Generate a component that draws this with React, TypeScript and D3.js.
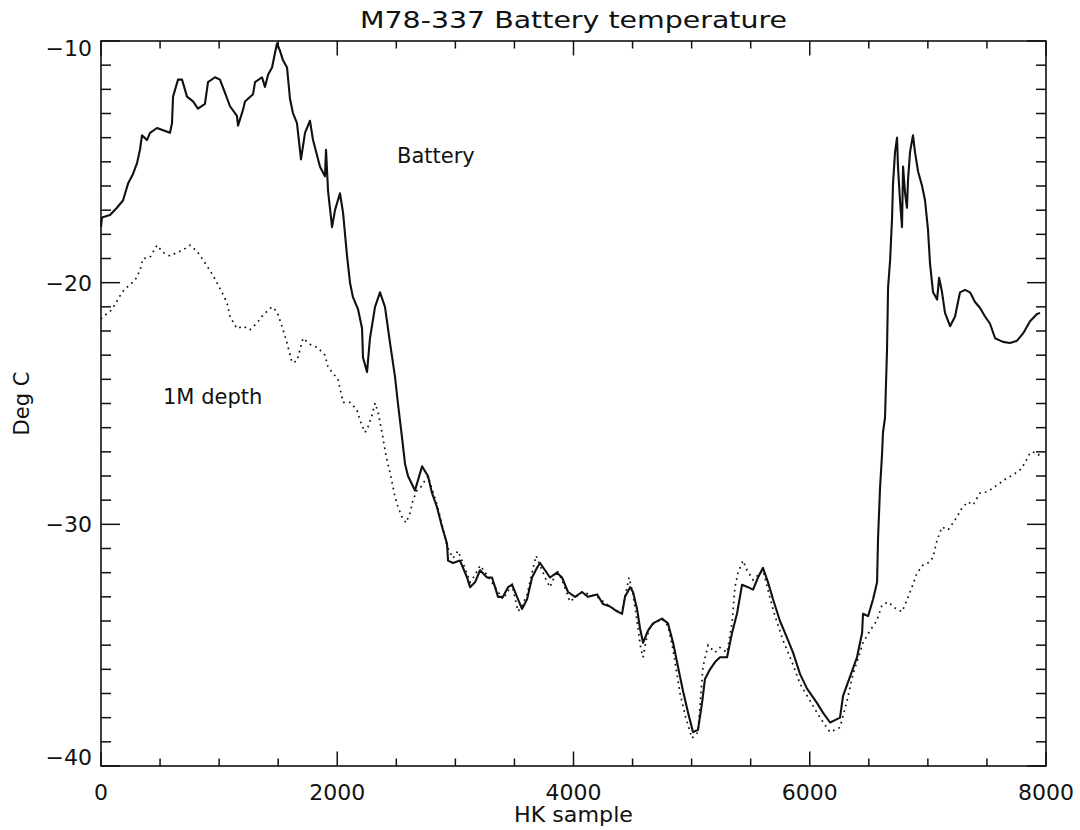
import React from 'react';
import * as d3 from 'd3';

// ---- Data ----
const titleText = 'M78-337 Battery temperature';
const xLabel = 'HK sample';
const yLabel = 'Deg C';
const batteryLabel = 'Battery';
const depthLabel = '1M depth';

const xTicks = [0, 2000, 4000, 6000, 8000];
const yTicks = [-10, -20, -30, -40];

// Battery temperature [HK sample, deg C]
const battery: [number, number][] = [
  [0, -17.7], [8, -17.3], [76, -17.2], [135, -16.9], [186, -16.6], [229, -15.9], [271, -15.5],
  [305, -15.05], [330, -14.5], [347, -13.9], [389, -14.1], [415, -13.8], [474, -13.6], [584, -13.8],
  [601, -13.4], [610, -12.3], [652, -11.6], [686, -11.6], [728, -12.3], [779, -12.5], [821, -12.8],
  [880, -12.6], [906, -11.7], [965, -11.5], [1007, -11.6], [1050, -12.15], [1092, -12.7], [1151, -13.1],
  [1160, -13.5], [1202, -12.85], [1219, -12.5], [1287, -12.2], [1304, -11.7], [1363, -11.5], [1388, -11.9],
  [1414, -11.4], [1448, -11.1], [1473, -10.5], [1490, -10.1], [1515, -10.4], [1541, -10.8], [1575, -11.1],
  [1600, -12.4], [1625, -12.98], [1659, -13.4], [1693, -14.9], [1727, -13.8], [1769, -13.3], [1795, -14.1],
  [1854, -15.2], [1896, -15.6], [1905, -14.5], [1922, -16.2], [1956, -17.7], [1981, -17.0], [2023, -16.3],
  [2049, -17.1], [2083, -18.9], [2108, -20.0], [2133, -20.6], [2176, -21.1], [2210, -21.9], [2218, -23.1],
  [2252, -23.7], [2277, -22.3], [2320, -21.0], [2362, -20.4], [2404, -21.0], [2447, -22.5], [2489, -23.9],
  [2514, -25.0], [2548, -26.4], [2574, -27.5], [2599, -28.0], [2658, -28.6], [2718, -27.6], [2768, -28.0],
  [2802, -28.7], [2845, -29.3], [2887, -30.1], [2929, -30.8], [2938, -31.5], [2980, -31.6], [3039, -31.5],
  [3065, -31.8], [3099, -32.2], [3124, -32.6], [3166, -32.4], [3209, -31.9], [3268, -32.2], [3310, -32.2],
  [3336, -32.6], [3361, -33.0], [3403, -33.0], [3446, -32.6], [3480, -32.5], [3522, -33.0], [3564, -33.5],
  [3607, -33.1], [3649, -32.2], [3691, -31.8], [3717, -31.6], [3759, -31.9], [3801, -32.2], [3860, -32.0],
  [3903, -32.2], [3954, -32.8], [4013, -33.0], [4072, -32.8], [4123, -33.0], [4199, -32.9], [4225, -33.1],
  [4250, -33.3], [4309, -33.4], [4368, -33.6], [4411, -33.7], [4436, -33.0], [4479, -32.6], [4504, -32.8],
  [4538, -33.5], [4563, -34.3], [4589, -34.9], [4631, -34.4], [4673, -34.1], [4749, -33.9], [4800, -34.1],
  [4843, -34.9], [4885, -35.9], [4927, -36.9], [4970, -37.8], [5012, -38.6], [5054, -38.5], [5088, -37.4],
  [5113, -36.4], [5156, -36.0], [5198, -35.7], [5240, -35.5], [5300, -35.5], [5342, -34.5], [5384, -33.7],
  [5427, -32.5], [5477, -32.6], [5520, -32.7], [5562, -32.2], [5604, -31.8], [5647, -32.4], [5689, -33.1],
  [5748, -34.0], [5808, -34.7], [5858, -35.3], [5918, -36.2], [5977, -36.8], [6062, -37.4], [6113, -37.8],
  [6172, -38.2], [6214, -38.1], [6256, -38.0], [6282, -37.1], [6341, -36.3], [6400, -35.5], [6443, -34.5],
  [6451, -33.7], [6494, -33.8], [6536, -33.1], [6570, -32.4], [6578, -30.6], [6595, -28.5], [6612, -27.1],
  [6620, -26.2], [6637, -25.6], [6654, -22.8], [6663, -20.2], [6680, -19.1], [6697, -17.3], [6705, -15.9],
  [6722, -14.6], [6739, -14.0], [6747, -15.2], [6764, -16.6], [6781, -17.7], [6790, -15.2], [6807, -16.3],
  [6823, -16.9], [6832, -15.75], [6849, -14.6], [6874, -13.9], [6891, -14.6], [6917, -15.4], [6951, -16.0],
  [6976, -16.6], [7001, -17.8], [7018, -19.2], [7044, -20.4], [7078, -20.7], [7095, -19.8], [7120, -20.4],
  [7145, -21.25], [7188, -21.8], [7230, -21.4], [7272, -20.4], [7315, -20.3], [7357, -20.4], [7399, -20.8],
  [7442, -21.05], [7484, -21.4], [7526, -21.7], [7569, -22.3], [7636, -22.45], [7695, -22.5], [7755, -22.4],
  [7806, -22.1], [7865, -21.6], [7924, -21.3], [7950, -21.25],
];

// 1 m depth temperature [HK sample, deg C]
const depth: [number, number][] = [
  [0, -21.5], [17, -21.4], [76, -21.2], [119, -20.9], [178, -20.4], [229, -20.15], [288, -19.9],
  [330, -19.5], [356, -19.0], [415, -18.95], [474, -18.45], [525, -18.75], [584, -18.9], [643, -18.75],
  [694, -18.65], [753, -18.45], [813, -18.7], [864, -19.06], [923, -19.5], [965, -19.85], [1024, -20.4],
  [1067, -20.84], [1092, -21.4], [1151, -21.9], [1202, -21.8], [1261, -21.95], [1321, -21.67], [1372, -21.34],
  [1448, -21.0], [1490, -21.2], [1532, -21.8], [1575, -22.5], [1617, -23.3], [1659, -23.25], [1710, -22.3],
  [1769, -22.55], [1837, -22.7], [1896, -23.0], [1922, -23.5], [1964, -23.75], [2006, -24.0], [2049, -24.95],
  [2108, -24.95], [2167, -25.27], [2193, -25.7], [2235, -26.2], [2260, -25.97], [2294, -25.5], [2320, -24.98],
  [2345, -25.35], [2379, -26.2], [2404, -26.92], [2421, -27.34], [2447, -27.87], [2489, -28.87], [2514, -29.28],
  [2548, -29.69], [2582, -29.94], [2616, -29.53], [2641, -29.0], [2675, -28.6], [2701, -28.5], [2768, -28.0],
  [2845, -29.2], [2887, -30.0], [2929, -30.9], [2980, -31.4], [3022, -31.1], [3065, -31.6], [3124, -32.4],
  [3166, -32.1], [3209, -31.7], [3268, -32.1], [3336, -32.6], [3403, -33.1], [3480, -32.5], [3530, -33.6],
  [3564, -33.4], [3607, -32.9], [3649, -32.0], [3683, -31.3], [3717, -31.7], [3759, -32.2], [3801, -32.6],
  [3860, -31.9], [3903, -32.3], [3970, -33.2], [4072, -32.8], [4199, -33.0], [4309, -33.4], [4411, -33.7],
  [4436, -33.0], [4470, -32.2], [4504, -32.9], [4538, -34.0], [4565, -35.0], [4589, -35.5], [4615, -34.8],
  [4650, -34.2], [4749, -33.9], [4800, -34.2], [4843, -35.2], [4902, -37.0], [4950, -38.0], [5003, -38.85],
  [5054, -38.6], [5096, -35.9], [5139, -35.0], [5198, -35.3], [5240, -35.1], [5300, -35.3], [5342, -34.1],
  [5367, -32.6], [5393, -32.0], [5435, -31.5], [5469, -31.9], [5520, -32.3], [5604, -31.9], [5664, -33.05],
  [5706, -33.8], [5774, -34.8], [5850, -35.7], [5918, -36.6], [6002, -37.3], [6087, -38.0], [6172, -38.6],
  [6256, -38.4], [6316, -37.3], [6366, -36.2], [6451, -34.9], [6510, -34.4], [6570, -33.96], [6612, -33.34],
  [6663, -33.21], [6722, -33.46], [6781, -33.62], [6823, -33.13], [6866, -32.59], [6908, -32.01], [6959, -31.68],
  [7018, -31.56], [7044, -31.35], [7078, -30.65], [7120, -30.11], [7171, -30.23], [7213, -29.94], [7247, -29.69],
  [7289, -29.32], [7340, -29.07], [7382, -29.2], [7442, -28.7], [7501, -28.66], [7552, -28.49], [7611, -28.29],
  [7670, -28.08], [7721, -27.96], [7780, -27.75], [7822, -27.46], [7865, -27.05], [7890, -27.0], [7933, -27.13],
  [7980, -27.0],
];

// ---- Layout ----
const W = 1080;
const H = 830;
const M = { left: 101, right: 1046, top: 41, bottom: 766 };
const FONT = '"DejaVu Sans", "Liberation Sans", sans-serif';
const INK = '#111';

export default function App() {
  const x = d3.scaleLinear().domain([0, 8000]).range([M.left, M.right]);
  const y = d3.scaleLinear().domain([-40, -10]).range([M.bottom, M.top]);

  const line = d3
    .line<[number, number]>()
    .x((d) => x(d[0]))
    .y((d) => y(d[1]))
    .curve(d3.curveLinear);

  const xMinor = d3.range(0, 8000 + 1, 500).filter((v) => v % 2000 !== 0);
  const yMinor = d3.range(-40, -10 + 0.001, 1).filter((v) => Math.round(v) % 10 !== 0);

  const xMajLen = 14.5;
  const xMinLen = 7.5;
  const yMajLen = 19;
  const yMinLen = 10;

  const fmt = (v: number) => (v < 0 ? '\u2212' + Math.abs(v) : String(v));

  return (
    <svg
      width={W}
      height={H}
      style={{ position: 'absolute', left: 0, top: 0, display: 'block', background: '#fff' }}
      fontFamily={FONT}
    >
      <rect x={0} y={0} width={W} height={H} fill="#fff" />

      {/* Title */}
      <text
        x={(M.left + M.right) / 2}
        y={28}
        textAnchor="middle"
        fontSize={23}
        fill={INK}
        textLength={427}
        lengthAdjust="spacingAndGlyphs"
      >
        {titleText}
      </text>

      {/* Data lines */}
      <path d={line(depth) || ''} fill="none" stroke={INK} strokeWidth={1.7} strokeDasharray="1.7 4.2" />
      <path d={line(battery) || ''} fill="none" stroke={INK} strokeWidth={2.1} strokeLinejoin="round" />

      {/* Frame */}
      <rect
        x={M.left}
        y={M.top}
        width={M.right - M.left}
        height={M.bottom - M.top}
        fill="none"
        stroke={INK}
        strokeWidth={1.6}
      />

      {/* X ticks (bottom & top) */}
      {xTicks.map((v) => (
        <g key={'xt' + v}>
          <line x1={x(v)} x2={x(v)} y1={M.bottom} y2={M.bottom - xMajLen} stroke={INK} strokeWidth={1.5} />
          <line x1={x(v)} x2={x(v)} y1={M.top} y2={M.top + xMajLen} stroke={INK} strokeWidth={1.5} />
          <text x={x(v)} y={800} textAnchor="middle" fontSize={22} fill={INK}>
            {fmt(v)}
          </text>
        </g>
      ))}
      {xMinor.map((v) => (
        <g key={'xm' + v}>
          <line x1={x(v)} x2={x(v)} y1={M.bottom} y2={M.bottom - xMinLen} stroke={INK} strokeWidth={1.5} />
          <line x1={x(v)} x2={x(v)} y1={M.top} y2={M.top + xMinLen} stroke={INK} strokeWidth={1.5} />
        </g>
      ))}

      {/* Y ticks (left & right) */}
      {yTicks.map((v) => {
        const shift = v === -10 ? 7 : v === -40 ? -9 : 0;
        return (
          <g key={'yt' + v}>
            <line x1={M.left} x2={M.left + yMajLen} y1={y(v)} y2={y(v)} stroke={INK} strokeWidth={1.5} />
            <line x1={M.right} x2={M.right - yMajLen} y1={y(v)} y2={y(v)} stroke={INK} strokeWidth={1.5} />
            <text
              x={92}
              y={y(v) + shift}
              dy="0.36em"
              textAnchor="end"
              fontSize={22}
              fill={INK}
            >
              {fmt(v)}
            </text>
          </g>
        );
      })}
      {yMinor.map((v) => (
        <g key={'ym' + v}>
          <line x1={M.left} x2={M.left + yMinLen} y1={y(v)} y2={y(v)} stroke={INK} strokeWidth={1.5} />
          <line x1={M.right} x2={M.right - yMinLen} y1={y(v)} y2={y(v)} stroke={INK} strokeWidth={1.5} />
        </g>
      ))}

      {/* Axis titles */}
      <text
        x={(M.left + M.right) / 2}
        y={822}
        textAnchor="middle"
        fontSize={21}
        fill={INK}
        textLength={119}
        lengthAdjust="spacingAndGlyphs"
      >
        {xLabel}
      </text>
      <text
        transform={`translate(29, ${(M.top + M.bottom) / 2}) rotate(-90)`}
        textAnchor="middle"
        fontSize={21}
        fill={INK}
      >
        {yLabel}
      </text>

      {/* Annotations */}
      <text x={397} y={163} fontSize={21} fill={INK}>
        {batteryLabel}
      </text>
      <text x={163} y={404} fontSize={21} fill={INK}>
        {depthLabel}
      </text>
    </svg>
  );
}
